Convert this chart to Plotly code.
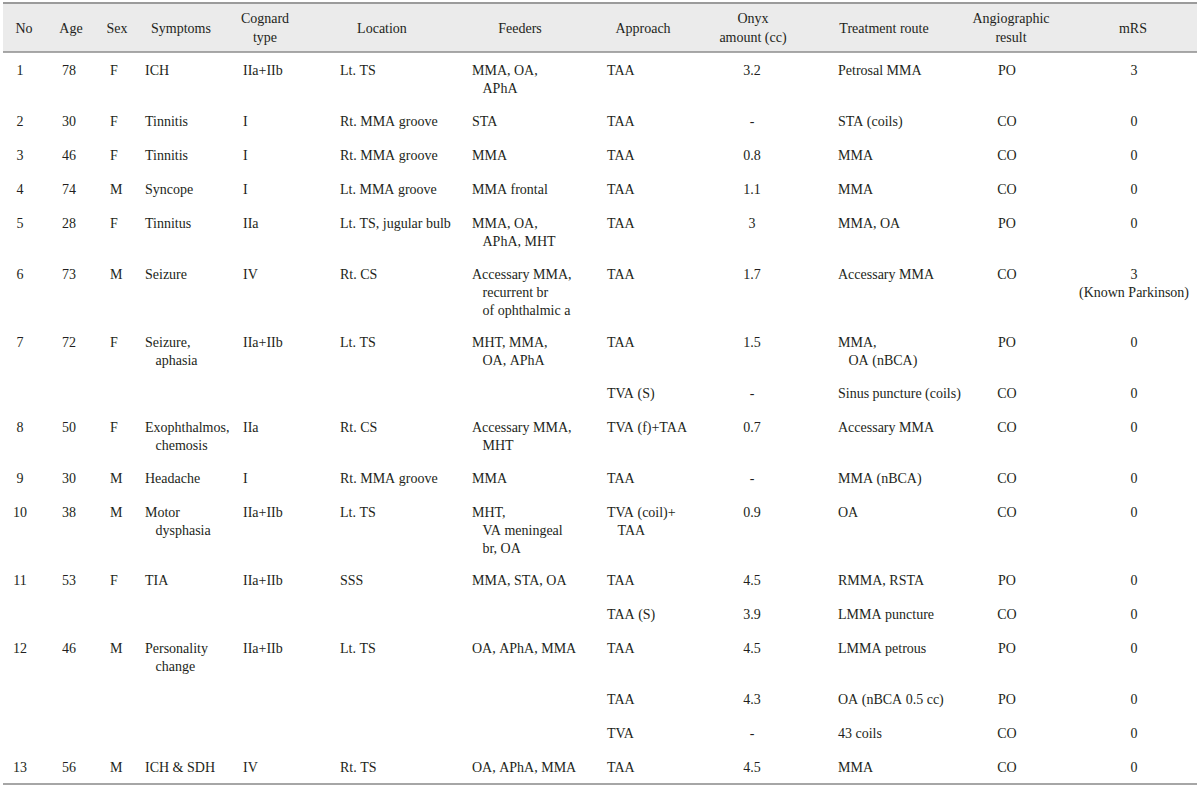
import plotly.graph_objects as go

# ---------------- data ----------------
headers = ["No", "Age", "Sex", "Symptoms", "Cognard<br>type", "Location", "Feeders",
           "Approach", "Onyx<br>amount (cc)", "Treatment route", "Angiographic<br>result", "mRS"]

case_no = ["1", "2", "3", "4", "5", "6", "7", "", "8", "9", "10", "11", "", "12", "", "", "13"]
age = ["78", "30", "46", "74", "28", "73", "72", "", "50", "30", "38", "53", "", "46", "", "", "56"]
sex = ["F", "F", "F", "M", "F", "M", "F", "", "F", "M", "M", "F", "", "M", "", "", "M"]
symptoms = ["ICH", "Tinnitis", "Tinnitis", "Syncope", "Tinnitus", "Seizure", "Seizure,\naphasia", "",
            "Exophthalmos,\nchemosis", "Headache", "Motor\ndysphasia", "TIA", "", "Personality\nchange",
            "", "", "ICH & SDH"]
cognard = ["IIa+IIb", "I", "I", "I", "IIa", "IV", "IIa+IIb", "", "IIa", "I", "IIa+IIb", "IIa+IIb", "",
           "IIa+IIb", "", "", "IV"]
location = ["Lt. TS", "Rt. MMA groove", "Rt. MMA groove", "Lt. MMA groove", "Lt. TS, jugular bulb",
            "Rt. CS", "Lt. TS", "", "Rt. CS", "Rt. MMA groove", "Lt. TS", "SSS", "", "Lt. TS", "", "",
            "Rt. TS"]
feeders = ["MMA, OA,\nAPhA", "STA", "MMA", "MMA frontal", "MMA, OA,\nAPhA, MHT",
           "Accessary MMA,\nrecurrent br\nof ophthalmic a", "MHT, MMA,\nOA, APhA", "",
           "Accessary MMA,\nMHT", "MMA", "MHT,\nVA meningeal\nbr, OA", "MMA, STA, OA", "",
           "OA, APhA, MMA", "", "", "OA, APhA, MMA"]
approach = ["TAA", "TAA", "TAA", "TAA", "TAA", "TAA", "TAA", "TVA (S)", "TVA (f)+TAA", "TAA",
            "TVA (coil)+\nTAA", "TAA", "TAA (S)", "TAA", "TAA", "TVA", "TAA"]
onyx = ["3.2", "-", "0.8", "1.1", "3", "1.7", "1.5", "-", "0.7", "-", "0.9", "4.5", "3.9", "4.5",
        "4.3", "-", "4.5"]
route = ["Petrosal MMA", "STA (coils)", "MMA", "MMA", "MMA, OA", "Accessary MMA", "MMA,\nOA (nBCA)",
         "Sinus puncture (coils)", "Accessary MMA", "MMA (nBCA)", "OA", "RMMA, RSTA", "LMMA puncture",
         "LMMA petrous", "OA (nBCA 0.5 cc)", "43 coils", "MMA"]
result = ["PO", "CO", "CO", "CO", "PO", "CO", "PO", "CO", "CO", "CO", "CO", "PO", "CO", "PO", "PO",
          "CO", "CO"]
mrs = ["3", "0", "0", "0", "0", "3\n(Known Parkinson)", "0", "0", "0", "0", "0", "0", "0", "0", "0",
       "0", "0"]

columns = [case_no, age, sex, symptoms, cognard, location, feeders, approach, onyx, route, result, mrs]

# ---------------- layout ----------------
W, H = 1200, 788
FONT = "Liberation Serif"
FS = 14
TXT = "#231f20"
LINE_H = 17                # row line pitch (px)
HEAD_TOP, HEAD_BOT = 3, 52
TABLE_L, TABLE_R = 3, 1197
TEXT_OFF = 12              # first text line offset within a row
INDENT = "\u00a0" * 3      # hanging indent of continuation lines

body_x = [20, 62, 110, 145, 243, 340, 472, 607, 752, 838, 1007, 1134]
body_align = ["center", "left", "left", "left", "left", "left", "left", "left",
              "center", "left", "center", "center"]
hang = [False, False, False, True, False, False, True, True, False, True, False, False]
header_x = [24, 71, 117, 181, 265, 382, 520, 643, 753, 884, 1011, 1133]


def fmt(s, indent):
    parts = s.split("\n")
    sep = "<br>" + (INDENT if indent else "")
    return sep.join(p.replace(" ", "\u00a0") for p in parts)


n_rows = len(case_no)
line_counts = [max(col[i].count("\n") + 1 for col in columns) for i in range(n_rows)]
row_tops = []
y = HEAD_BOT
for n in line_counts:
    row_tops.append(y)
    y += LINE_H * (n + 1)
table_bottom = y + 1

fig = go.Figure()

# header band
fig.add_trace(go.Scatter(
    x=[TABLE_L, TABLE_R, TABLE_R, TABLE_L, TABLE_L],
    y=[HEAD_TOP, HEAD_TOP, HEAD_BOT, HEAD_BOT, HEAD_TOP],
    mode="lines", fill="toself", fillcolor="#ebebeb", line=dict(width=0),
    hoverinfo="skip", showlegend=False))

# rules: top, under header, bottom
for yy, colr, wd in [(HEAD_TOP, "#9b9b9b", 2), (HEAD_BOT, "#8c8c8c", 1.5), (table_bottom, "#a6a6a6", 2)]:
    fig.add_trace(go.Scatter(
        x=[TABLE_L, TABLE_R], y=[yy, yy], mode="lines",
        line=dict(color=colr, width=wd), hoverinfo="skip", showlegend=False))

# header labels
fig.add_trace(go.Scatter(
    x=header_x, y=[(HEAD_TOP + HEAD_BOT) / 2 + 1.5] * len(headers), text=headers,
    mode="text", textposition="middle center",
    textfont=dict(family=FONT, size=FS, color=TXT), hoverinfo="skip", showlegend=False))

# body columns
for ci, col in enumerate(columns):
    pos = "bottom right" if body_align[ci] == "left" else "bottom center"
    fig.add_trace(go.Scatter(
        x=[body_x[ci]] * n_rows, y=[t + TEXT_OFF for t in row_tops],
        text=[fmt(v, hang[ci]) for v in col],
        mode="text", textposition=pos,
        textfont=dict(family=FONT, size=FS, color=TXT), hoverinfo="skip", showlegend=False))

fig.update_layout(
    width=W, height=H, margin=dict(l=0, r=0, t=0, b=0),
    paper_bgcolor="white", plot_bgcolor="white",
    xaxis=dict(range=[0, W], visible=False, fixedrange=True),
    yaxis=dict(range=[H, 0], visible=False, fixedrange=True),
    showlegend=False,
)

fig.write_html("out.html", config={"displayModeBar": False},
               post_script="document.body.style.margin='0px';")
